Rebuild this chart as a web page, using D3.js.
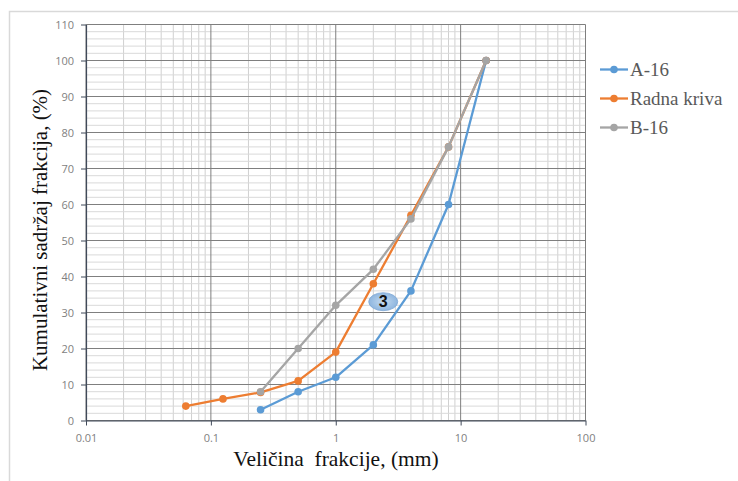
<!DOCTYPE html>
<html>
<head>
<meta charset="utf-8">
<script src="https://cdn.jsdelivr.net/npm/d3@7"></script>
<style>
  html, body { margin: 0; padding: 0; background: #fff; }
  svg { display: block; }
</style>
</head>
<body>
<svg id="chart" width="738" height="481"></svg>
<script>
// ---- Data ----
const seriesNames = ["A-16", "Radna kriva", "B-16"];
const seriesColors = ["#5B9BD5", "#ED7D31", "#A5A5A5"];
const sizesA = [0.25, 0.5, 1, 2, 4, 8, 16];
const valuesA = [3, 8, 12, 21, 36, 60, 100];
const sizesR = [0.063, 0.125, 0.25, 0.5, 1, 2, 4, 8, 16];
const valuesR = [4, 6, 7.8, 11, 19, 38, 57, 76, 100];
const sizesB = [0.25, 0.5, 1, 2, 4, 8, 16];
const valuesB = [8, 20, 32, 42, 56, 76, 100];
const xTickValues = [0.01, 0.1, 1, 10, 100];
const xTickLabels = ["0.01", "0.1", "1", "10", "100"];
const yTickValues = [0, 10, 20, 30, 40, 50, 60, 70, 80, 90, 100, 110];
const calloutLabel = "3";
const calloutPos = [2.4, 33];

const svg = d3.select("#chart");
const margin = { left: 86, right: 152.5, top: 24.5, bottom: 60.5 };
const W = 738, H = 481;
const x = d3.scaleLog().domain([0.01, 100]).range([margin.left, W - margin.right]);
const y = d3.scaleLinear().domain([0, 110]).range([H - margin.bottom, margin.top]);

// outer chart border (top & left visible)
svg.append("path").attr("d", `M9.5,${H} V11.5 H${W}`)
  .attr("fill", "none").attr("stroke", "#d9d9d9").attr("stroke-width", 1.5);

const grid = svg.append("g");
// minor x grid
const minorX = [];
for (let e = -2; e < 2; e++) for (let m = 2; m <= 9; m++) minorX.push(m * Math.pow(10, e));
grid.selectAll(".mx").data(minorX).join("line")
  .attr("x1", d => x(d)).attr("x2", d => x(d))
  .attr("y1", y(0)).attr("y2", y(110))
  .attr("stroke", "#d0d0d0").attr("stroke-width", 1);
// minor y grid
const minorY = d3.range(0, 111, 2).filter(v => v % 10 !== 0);
grid.selectAll(".my").data(minorY).join("line")
  .attr("x1", x(0.01)).attr("x2", x(100))
  .attr("y1", d => y(d)).attr("y2", d => y(d))
  .attr("stroke", "#d9d9d9").attr("stroke-width", 1);
// major y grid
grid.selectAll(".My").data(yTickValues).join("line")
  .attr("x1", x(0.01)).attr("x2", x(100))
  .attr("y1", d => y(d)).attr("y2", d => y(d))
  .attr("stroke", "#7f7f7f").attr("stroke-width", 1);
// major x grid
grid.selectAll(".Mx").data(xTickValues).join("line")
  .attr("x1", d => x(d)).attr("x2", d => x(d))
  .attr("y1", y(0)).attr("y2", y(110))
  .attr("stroke", "#7f7f7f").attr("stroke-width", 1);

// axes
const xAxis = d3.axisBottom(x).tickValues(xTickValues)
  .tickFormat((d, i) => xTickLabels[i]).tickSize(5).tickSizeOuter(0);
const gx = svg.append("g").attr("transform", `translate(0,${y(0)})`).call(xAxis);
gx.select(".domain").attr("stroke", "#404a5a").attr("stroke-width", 1.2);
gx.selectAll(".tick line").attr("stroke", "#404a5a");
gx.selectAll("text").attr("fill", "#7f7f7f").attr("font-family", "Open Sans, sans-serif")
  .attr("font-size", 11).attr("dy", "1.2em");

const yAxis = d3.axisLeft(y).tickValues(yTickValues).tickSize(5).tickSizeOuter(0);
const gy = svg.append("g").attr("transform", `translate(${x(0.01)},0)`).call(yAxis);
gy.select(".domain").attr("stroke", "#404a5a").attr("stroke-width", 1.2);
gy.selectAll(".tick line").attr("stroke", "#404a5a");
gy.selectAll("text").attr("fill", "#7f7f7f").attr("font-family", "Open Sans, sans-serif")
  .attr("font-size", 11).attr("x", -12);

// series
const series = [
  { name: seriesNames[0], color: seriesColors[0], xs: sizesA, ys: valuesA },
  { name: seriesNames[1], color: seriesColors[1], xs: sizesR, ys: valuesR },
  { name: seriesNames[2], color: seriesColors[2], xs: sizesB, ys: valuesB }
];
const line = d3.line().x(d => x(d[0])).y(d => y(d[1]));
series.forEach(s => {
  const pts = s.xs.map((v, i) => [v, s.ys[i]]);
  const g = svg.append("g");
  g.append("path").attr("d", line(pts)).attr("fill", "none")
    .attr("stroke", s.color).attr("stroke-width", 2.3).attr("stroke-linejoin", "round");
  g.selectAll("circle").data(pts).join("circle")
    .attr("cx", d => x(d[0])).attr("cy", d => y(d[1])).attr("r", 3.8)
    .attr("fill", s.color);
});

// callout
const defs = svg.append("defs");
const grad = defs.append("radialGradient").attr("id", "cg");
grad.append("stop").attr("offset", "0%").attr("stop-color", "#c5dbf0");
grad.append("stop").attr("offset", "100%").attr("stop-color", "#8fb6df");
const cx = x(calloutPos[0]), cy = y(calloutPos[1]);
svg.append("ellipse").attr("cx", cx).attr("cy", cy).attr("rx", 14.5).attr("ry", 9)
  .attr("fill", "url(#cg)").attr("stroke", "#7fa8d6").attr("stroke-width", 0.8);
svg.append("text").attr("x", cx).attr("y", cy).attr("dy", "0.36em")
  .attr("text-anchor", "middle").attr("font-family", "Liberation Sans, Arial, sans-serif")
  .attr("font-weight", "bold").attr("font-size", 16).attr("fill", "#111").text(calloutLabel);

// axis titles
svg.append("text").attr("x", 336).attr("y", 466).attr("text-anchor", "middle")
  .style("white-space", "pre")
  .attr("font-family", "Liberation Serif, Times New Roman, serif").attr("font-size", 21.5)
  .attr("fill", "#111").text("Veličina  frakcije, (mm)");
svg.append("text").attr("transform", "translate(47,230) rotate(-90)").attr("text-anchor", "middle")
  .attr("font-family", "Liberation Serif, Times New Roman, serif").attr("font-size", 21)
  .attr("fill", "#111").text("Kumulativni sadržaj frakcija, (%)");

// legend
const lg = svg.append("g").attr("transform", "translate(600,69.5)");
series.forEach((s, i) => {
  const gy0 = i * 29;
  lg.append("line").attr("x1", 0).attr("x2", 28).attr("y1", gy0).attr("y2", gy0)
    .attr("stroke", s.color).attr("stroke-width", 2.3);
  lg.append("circle").attr("cx", 14).attr("cy", gy0).attr("r", 3.8).attr("fill", s.color);
  lg.append("text").attr("x", 30).attr("y", gy0).attr("dy", "0.35em")
    .attr("font-family", "Liberation Serif, Times New Roman, serif").attr("font-size", 19)
    .attr("fill", "#595959").text(s.name);
});
</script>
</body>
</html>
